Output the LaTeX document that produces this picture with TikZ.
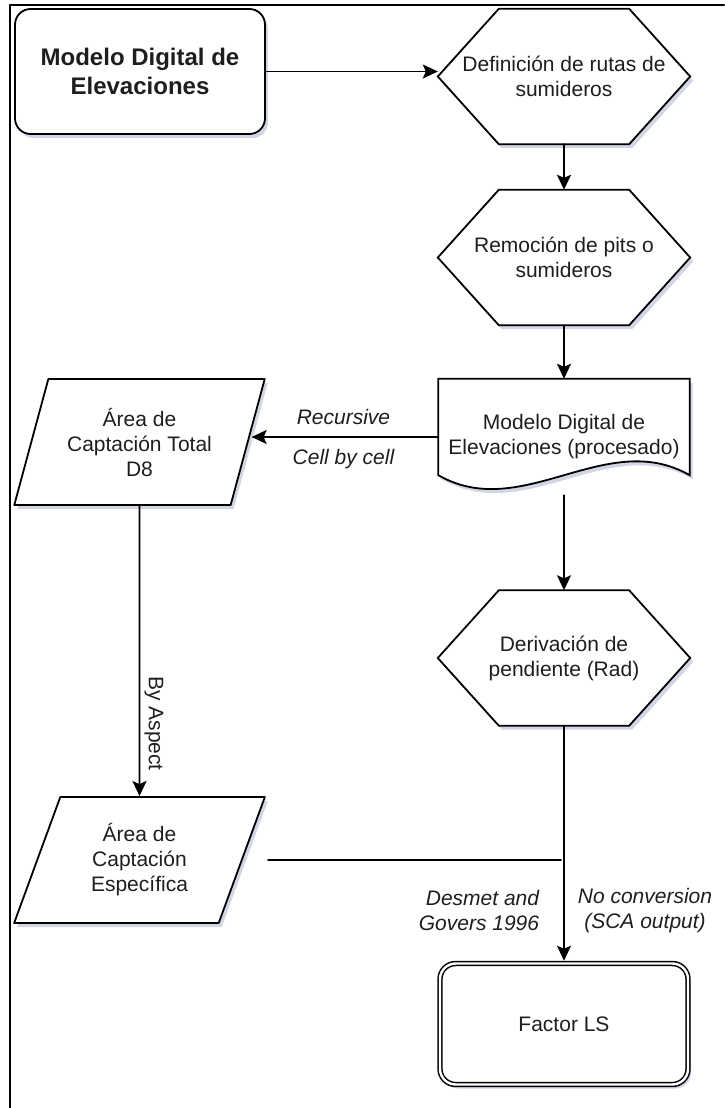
\documentclass[tikz,border=0pt]{standalone}
\usepackage{fontspec}
\setmainfont{Liberation Sans}
\usepackage{xcolor}
\usepackage{tikz}
\usetikzlibrary{arrows.meta,positioning,calc,backgrounds,shapes.geometric,shadows}
\definecolor{ink}{HTML}{1E1E1E}
\definecolor{shade}{HTML}{8E95B8}
\tikzset{
    every picture/.style={line cap=round,line join=round},
    boxshadow/.style={drop shadow={shadow xshift=3pt,shadow yshift=-4pt,
      fill=shade,opacity=0.4}},
    startbox/.style={draw=black,fill=white,line width=1.8pt,rounded corners=5.5mm,
      minimum width=250pt,minimum height=125pt,inner sep=2pt,
      font=\fontsize{24}{29}\selectfont\bfseries,text=ink,align=center,boxshadow},
    hexbox/.style={minimum width=252pt,minimum height=135pt,inner sep=2pt,
      font=\fontsize{21}{25}\selectfont,text=ink,align=center},
    hexline/.style={draw=black,fill=white,line width=1.8pt,boxshadow},
    databox/.style={trapezium,trapezium left angle=69,trapezium right angle=111,
      trapezium stretches=true,draw=black,fill=white,line width=1.8pt,
      minimum width=251pt,minimum height=126pt,inner sep=2pt,
      font=\fontsize{21}{25}\selectfont,text=ink,align=center,boxshadow},
    docbox/.style={minimum width=251pt,minimum height=116pt,inner sep=2pt,
      font=\fontsize{21}{25}\selectfont,text=ink,align=center},
    endbox/.style={draw=black,fill=white,line width=1.5pt,double,double distance=2.4pt,
      rounded corners=5.5mm,minimum width=248pt,minimum height=121pt,
      font=\fontsize{21}{25}\selectfont,text=ink,align=center,boxshadow},
    flowarrow/.style={-{Stealth[length=15pt,width=14pt,inset=3pt]},draw=black,
      line width=1.8pt},
    joinline/.style={draw=black,line width=1.8pt},
    edgelabel/.style={font=\fontsize{21}{25}\selectfont\itshape,text=ink,
      align=center,inner sep=2pt},
    sidelabel/.style={font=\fontsize{21}{25}\selectfont,text=ink,inner sep=4pt}
}
\begin{document}
\begin{tikzpicture}[x=1pt,y=-1pt]
  \useasboundingbox (0,0) rectangle (724,1108);
  \draw[line width=2.2pt] (10,1108) -- (10,5) -- (724,5);
  \node[startbox] (dem) at (140,71.5) {Modelo Digital de\\Elevaciones};
  \node[hexbox] (rutas) at (564,76.5) {Definición de rutas de\\sumideros};
  \node[hexbox] (pits) at (564,257.5) {Remoción de pits o\\sumideros};
  \node[docbox] (demp) at (564,437) {Modelo Digital de\\Elevaciones (procesado)};
  \node[hexbox] (pend) at (564,658) {Derivación de\\pendiente (Rad)};
  \node[databox] (atot) at (139.5,442) {Área de\\Captación Total\\D8};
  \node[databox] (aesp) at (139.5,860) {Área de\\Captación\\Específica};
  \node[endbox] (ls) at (564,1024) {Factor LS};
  \begin{scope}[on background layer]
    \foreach \hx in {rutas,pits,pend}
      \draw[hexline] (\hx.west) -- ([xshift=61pt]\hx.north west)
        -- ([xshift=-61pt]\hx.north east) -- (\hx.east)
        -- ([xshift=-61pt]\hx.south east) -- ([xshift=61pt]\hx.south west) -- cycle;
    \draw[hexline] ([yshift=20pt]demp.south west) -- (demp.north west)
      -- (demp.north east) -- ([yshift=20pt]demp.south east)
      .. controls ([xshift=-84pt,yshift=68pt]demp.south east)
      and ([xshift=84pt,yshift=-28pt]demp.south west)
      .. ([yshift=20pt]demp.south west) -- cycle;
  \end{scope}
  \draw[flowarrow] (dem.east) -- (dem.east -| rutas.west);
  \draw[flowarrow] (rutas) -- (pits);
  \draw[flowarrow] (pits) -- (demp);
  \draw[flowarrow,shorten >=3pt] (demp.west) -- (demp.west -| atot.east)
    node[edgelabel,midway,above=9pt] {Recursive}
    node[edgelabel,midway,below=9pt] {Cell by cell};
  \draw[flowarrow] (demp) -- (pend);
  \draw[flowarrow] (atot) -- (aesp)
    node[sidelabel,pos=0.75,rotate=-90,anchor=south] {By Aspect};
  \draw[flowarrow,shorten >=2pt] (pend) -- (ls)
    node[edgelabel,pos=0.78,left=22pt,align=right] {Desmet and\\Govers 1996}
    node[edgelabel,pos=0.78,right=11pt] {No conversion\\(SCA output)};
  \coordinate (join) at ($(pend.south |- aesp.east)+(-3,0)$);
  \draw[joinline] ($(aesp.top right corner |- aesp.east)+(2,0)$) -- (join);
\end{tikzpicture}
\end{document}
